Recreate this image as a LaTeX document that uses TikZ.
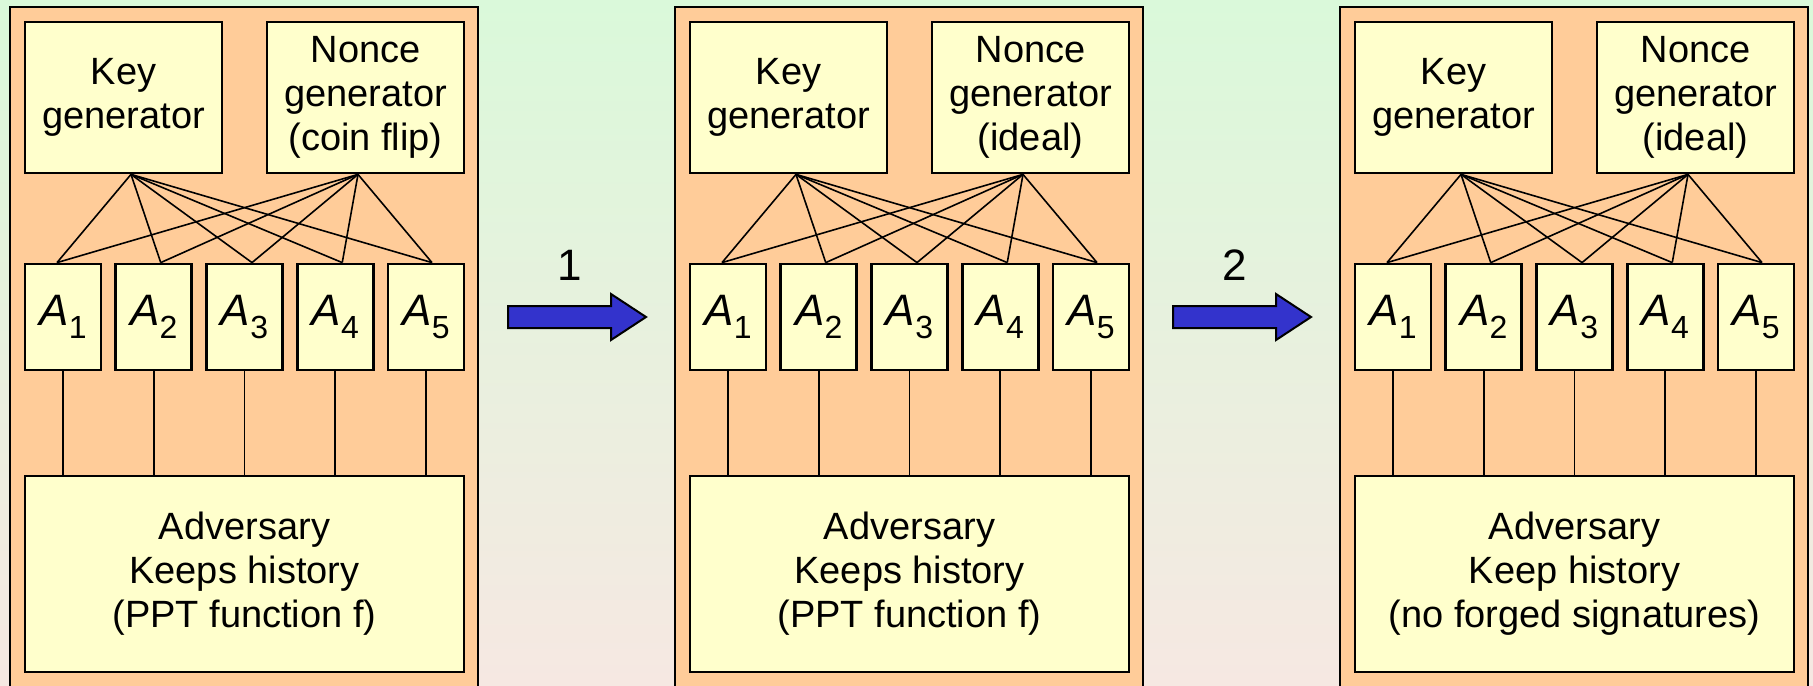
\documentclass[tikz,border=0pt]{standalone}
\usepackage{fontspec}
\setmainfont{Liberation Sans}

\definecolor{bgtop}{RGB}{218,249,218}
\definecolor{bgbottom}{RGB}{246,232,226}
\definecolor{panelfill}{RGB}{255,204,153}
\definecolor{boxfill}{RGB}{255,255,204}
\definecolor{arrowblue}{RGB}{51,51,204}

\begin{document}
\begin{tikzpicture}[x=0.5pt, y=-0.5pt,
    panel/.style={draw, line width=1.4pt, fill=panelfill},
    genbox/.style={draw, line width=1.4pt, fill=boxfill, inner sep=0pt,
        minimum width=98.5pt, minimum height=75.5pt, align=center,
        font=\fontsize{19}{22}\selectfont},
    agent/.style={draw, line width=1.4pt, fill=boxfill, inner sep=0pt,
        minimum width=38pt, minimum height=53pt,
        font=\fontsize{22}{24}\selectfont},
    advbox/.style={genbox, minimum width=219.5pt, minimum height=98pt},
    wire/.style={line width=0.8pt},
    bigarrow/.style={draw, line width=1pt, fill=arrowblue, line join=miter},
    arrowtag/.style={font=\fontsize{22}{24}\selectfont}]

    \useasboundingbox (0,0) rectangle (1813,685);
    \clip (0,0) rectangle (1813,685);

    % Background
    \shade[top color=bgtop, bottom color=bgbottom] (0,0) rectangle (1813,685);

    % Three panels
    \foreach \dx/\n/\nonce/\adv in {
        0/1/coin flip/{Keeps history\\(PPT function f)},
        665/2/ideal/{Keeps history\\(PPT function f)},
        1330/3/ideal/{Keep history\\(no forged signatures)}} {
      \begin{scope}[shift={(\dx,0)}]
        \draw[panel] (10,7) rectangle (478,700);

        \node[genbox] (key\n) at (123.5,97.5) {Key\\generator};
        \node[genbox] (nonce\n) at (365.5,97.5) {Nonce\\generator\\(\nonce)};
        \foreach \i in {1,...,5}
          \node[agent] (a\n-\i) at (63+90.75*\i-90.75,317)
            {\textit{A}\raisebox{-6.5pt}{\fontsize{16}{16}\selectfont\i}};
        \node[advbox] (adv\n) at (244.5,574) {Adversary\\\adv};

        % wiring
        \foreach \i/\off in {1/-3, 2/3.5, 3/3.75, 4/3.5, 5/3} {
          \draw[wire] ([xshift=3.75pt]key\n.south) -- ([xshift=\off pt]a\n-\i.north);
          \draw[wire] ([xshift=-3.75pt]nonce\n.south) -- ([xshift=\off pt]a\n-\i.north);
          \draw[wire] (a\n-\i.south) -- (a\n-\i.south |- adv\n.north);
        }
      \end{scope}
    }

    % Block arrows between panels
    \foreach \dx/\lbl in {0/1, 665/2} {
      \draw[bigarrow, shift={(\dx,0)}] (508,306) -- (611,306) -- (611,294)
        -- (646,317) -- (611,340) -- (611,328) -- (508,328) -- cycle;
      \node[arrowtag] (tag\lbl) at (570+\dx,265) {\lbl};
    }
\end{tikzpicture}
\end{document}
